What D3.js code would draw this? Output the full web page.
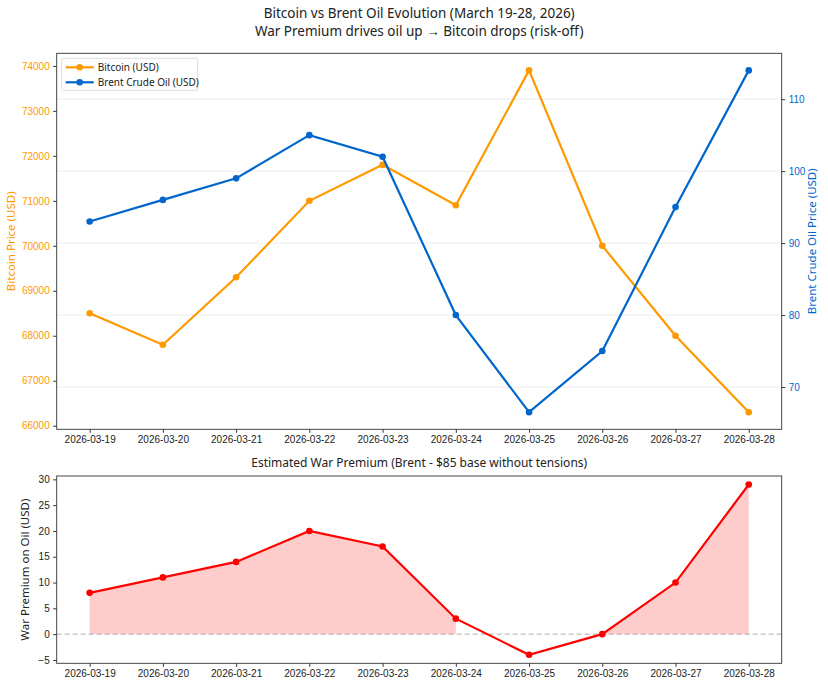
<!DOCTYPE html>
<html>
<head>
<meta charset="utf-8">
<script src="https://cdn.jsdelivr.net/npm/d3@7"></script>
<style>
  body { margin: 0; background: #fff; }
  svg { font-family: "Noto Sans", sans-serif; }
</style>
</head>
<body>
<div id="chart"></div>
<script>
const dates = ['2026-03-19','2026-03-20','2026-03-21','2026-03-22','2026-03-23',
               '2026-03-24','2026-03-25','2026-03-26','2026-03-27','2026-03-28'];
const bitcoin = [68500, 67800, 69300, 71000, 71800, 70900, 73900, 70000, 68000, 66300];
const brent = [93, 96, 99, 105, 102, 80, 66.5, 75, 95, 114];
const premium = [8, 11, 14, 20, 17, 3, -4, 0, 10, 29];
const btcTicks = [66000, 67000, 68000, 69000, 70000, 71000, 72000, 73000, 74000];
const brentTicks = [70, 80, 90, 100, 110];
const premTicks = [-5, 0, 5, 10, 15, 20, 25, 30];

const W = 828, H = 687;
const orange = '#ff9900', blue = '#0066cc', red = '#ff0000';

const svg = d3.select('#chart').append('svg')
  .attr('width', W).attr('height', H);

// padded domain like matplotlib's 5% margins
function pad(ext) {
  const m = (ext[1] - ext[0]) * 0.05;
  return [ext[0] - m, ext[1] + m];
}

const left = 56.7, right = 781.7;
const x = d3.scaleLinear().domain([-0.45, dates.length - 1 + 0.45]).range([left, right]);

// ---- top panel
const top1 = 53.3, bot1 = 429.3;
const yBtc = d3.scaleLinear().domain(pad(d3.extent(bitcoin))).range([bot1, top1]);
const yBrent = d3.scaleLinear().domain(pad(d3.extent(brent))).range([bot1, top1]);

const g1 = svg.append('g');

g1.selectAll('.grid').data(brentTicks).enter().append('line')
  .attr('x1', left).attr('x2', right)
  .attr('y1', d => yBrent(d)).attr('y2', d => yBrent(d))
  .attr('stroke', '#b0b0b0').attr('stroke-opacity', 0.3).attr('stroke-width', 0.8);

function styleAxis(sel, col) {
  sel.select('.domain').remove();
  sel.selectAll('.tick line').attr('stroke', '#333');
  sel.selectAll('.tick text').attr('fill', col).style('font-size', '10px');
}

g1.append('g').attr('transform', `translate(${left},0)`)
  .call(d3.axisLeft(yBtc).tickValues(btcTicks).tickSize(3.5).tickPadding(3.5).tickFormat(d3.format('d')))
  .call(s => styleAxis(s, orange));
g1.append('g').attr('transform', `translate(${right},0)`)
  .call(d3.axisRight(yBrent).tickValues(brentTicks).tickSize(3.5).tickPadding(3.5).tickFormat(d3.format('d')))
  .call(s => styleAxis(s, blue));
g1.append('g').attr('transform', `translate(0,${bot1})`)
  .call(d3.axisBottom(x).tickValues(d3.range(dates.length)).tickSize(3.5).tickPadding(3.5).tickFormat(i => dates[i]))
  .call(s => styleAxis(s, '#222'));

const lineBtc = d3.line().x((d, i) => x(i)).y(d => yBtc(d));
const lineBrent = d3.line().x((d, i) => x(i)).y(d => yBrent(d));

g1.append('path').datum(bitcoin).attr('d', lineBtc)
  .attr('fill', 'none').attr('stroke', orange).attr('stroke-width', 2.2);
g1.selectAll('.dbtc').data(bitcoin).enter().append('circle')
  .attr('cx', (d, i) => x(i)).attr('cy', d => yBtc(d)).attr('r', 3.3).attr('fill', orange);

g1.append('path').datum(brent).attr('d', lineBrent)
  .attr('fill', 'none').attr('stroke', blue).attr('stroke-width', 2.2);
g1.selectAll('.dbr').data(brent).enter().append('circle')
  .attr('cx', (d, i) => x(i)).attr('cy', d => yBrent(d)).attr('r', 3.3).attr('fill', blue);

g1.append('rect').attr('x', left).attr('y', top1)
  .attr('width', right - left).attr('height', bot1 - top1)
  .attr('fill', 'none').attr('stroke', '#333').attr('stroke-width', 0.9);

g1.append('text')
  .attr('transform', `translate(15,${(top1 + bot1) / 2}) rotate(-90)`)
  .attr('text-anchor', 'middle').attr('fill', orange).style('font-size', '11.5px')
  .text('Bitcoin Price (USD)');
g1.append('text')
  .attr('transform', `translate(816,${(top1 + bot1) / 2}) rotate(-90)`)
  .attr('text-anchor', 'middle').attr('fill', blue).style('font-size', '11.5px')
  .text('Brent Crude Oil Price (USD)');

// legend
const leg = g1.append('g').attr('transform', `translate(${left + 5},${top1 + 5})`);
leg.append('rect').attr('width', 136).attr('height', 32).attr('rx', 2)
  .attr('fill', '#fff').attr('fill-opacity', 0.8).attr('stroke', '#ddd');
[['Bitcoin (USD)', orange], ['Brent Crude Oil (USD)', blue]].forEach((e, i) => {
  const yy = 9 + i * 15;
  leg.append('line').attr('x1', 4).attr('x2', 32).attr('y1', yy).attr('y2', yy)
    .attr('stroke', e[1]).attr('stroke-width', 2.2);
  leg.append('circle').attr('cx', 18).attr('cy', yy).attr('r', 3.3).attr('fill', e[1]);
  leg.append('text').attr('x', 36).attr('y', yy + 3.5).attr('fill', '#222')
    .style('font-size', '10px').text(e[0]);
});

// ---- bottom panel
const top2 = 476, bot2 = 663.3;
const yPrem = d3.scaleLinear().domain(pad(d3.extent(premium))).range([bot2, top2]);
const g2 = svg.append('g');

// fill where premium >= 0 (segments between consecutive qualifying points)
const area = d3.area().defined(d => d >= 0)
  .x((d, i) => x(i)).y0(yPrem(0)).y1(d => yPrem(d));
g2.append('path').datum(premium).attr('d', area)
  .attr('fill', red).attr('fill-opacity', 0.2);

g2.append('line').attr('x1', left).attr('x2', right)
  .attr('y1', yPrem(0)).attr('y2', yPrem(0))
  .attr('stroke', '#999').attr('stroke-width', 1).attr('stroke-dasharray', '5,3').attr('opacity', 0.8);

g2.append('path').datum(premium)
  .attr('d', d3.line().x((d, i) => x(i)).y(d => yPrem(d)))
  .attr('fill', 'none').attr('stroke', red).attr('stroke-width', 2.2);
g2.selectAll('.dp').data(premium).enter().append('circle')
  .attr('cx', (d, i) => x(i)).attr('cy', d => yPrem(d)).attr('r', 3.3).attr('fill', red);

g2.append('g').attr('transform', `translate(${left},0)`)
  .call(d3.axisLeft(yPrem).tickValues(premTicks).tickSize(3.5).tickPadding(3.5)
    .tickFormat(d => d < 0 ? '\u2212' + Math.abs(d) : d))
  .call(s => styleAxis(s, '#222'));
g2.append('g').attr('transform', `translate(0,${bot2})`)
  .call(d3.axisBottom(x).tickValues(d3.range(dates.length)).tickSize(3.5).tickPadding(3.5).tickFormat(i => dates[i]))
  .call(s => styleAxis(s, '#222'));

g2.append('rect').attr('x', left).attr('y', top2)
  .attr('width', right - left).attr('height', bot2 - top2)
  .attr('fill', 'none').attr('stroke', '#333').attr('stroke-width', 0.9);

g2.append('text')
  .attr('transform', `translate(29,${(top2 + bot2) / 2}) rotate(-90)`)
  .attr('text-anchor', 'middle').attr('fill', '#222').style('font-size', '11.5px')
  .text('War Premium on Oil (USD)');
g2.append('text').attr('x', (left + right) / 2).attr('y', 467)
  .attr('text-anchor', 'middle').attr('fill', '#222').style('font-size', '12px')
  .text('Estimated War Premium (Brent - $85 base without tensions)');

// main title
svg.append('text').attr('x', (left + right) / 2).attr('y', 18)
  .attr('text-anchor', 'middle').attr('fill', '#222').style('font-size', '13.5px')
  .text('Bitcoin vs Brent Oil Evolution (March 19-28, 2026)');
svg.append('text').attr('x', (left + right) / 2).attr('y', 36)
  .attr('text-anchor', 'middle').attr('fill', '#222').style('font-size', '13.5px')
  .text('War Premium drives oil up \u2192 Bitcoin drops (risk-off)');
</script>
</body>
</html>
